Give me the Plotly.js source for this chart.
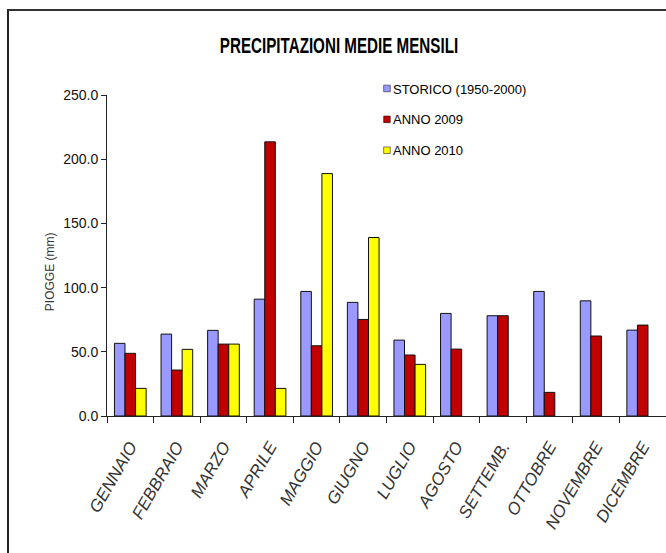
<!DOCTYPE html>
<html>
<head>
<meta charset="utf-8">
<script src="https://cdn.plot.ly/plotly-3.0.1.min.js"></script>
<style>
  html, body { margin: 0; padding: 0; background: #fff; overflow: hidden; }
  #wrap { position: relative; width: 666px; height: 553px; }
  #chart { position: absolute; left: 0; top: 0; width: 666px; height: 553px; }
  #frame { position: absolute; left: 7px; top: 9px; width: 700px; height: 600px;
           border-left: 2px solid #222; border-top: 2px solid #333; pointer-events: none; }
  #chart .gtitle { transform-box: fill-box; transform-origin: center; transform: scaleX(0.69); }
</style>
</head>
<body>
<div id="wrap">
  <div id="chart"></div>
  <div id="frame"></div>
</div>
<script>
const months = ["GENNAIO","FEBBRAIO","MARZO","APRILE","MAGGIO","GIUGNO","LUGLIO","AGOSTO","SETTEMB.","OTTOBRE","NOVEMBRE","DICEMBRE"];
const storico = [56.6, 63.8, 66.7, 91.0, 97.0, 88.5, 59.1, 79.9, 78.1, 97.0, 89.7, 66.9];
const anno2009 = [48.8, 35.8, 56.0, 213.5, 54.7, 75.2, 47.5, 52.1, 78.1, 18.4, 62.3, 70.8];
const anno2010 = [21.5, 51.9, 56.0, 21.5, 188.8, 139.0, 40.2, null, null, null, null, null];
const seriesNames = ["STORICO (1950-2000)", "ANNO 2009", "ANNO 2010"];
const yTicks = [0, 50, 100, 150, 200, 250];

const arial = '"Liberation Sans", Arial, sans-serif';

function bar(name, vals, color, group) {
  return {
    type: 'bar', name: name, x: months, y: vals, legendgroup: group,
    marker: { color: color, line: { color: '#111', width: 1 } },
    hoverinfo: 'x+y+name'
  };
}

const data = [
  bar(seriesNames[0], storico, '#9999FF', 'a'),
  bar(seriesNames[1], anno2009, '#C00000', 'b'),
  bar(seriesNames[2], anno2010, '#FFFF00', 'c')
];

const layout = {
  width: 666, height: 553,
  margin: { l: 107, r: 0, t: 95, b: 137 },
  paper_bgcolor: '#fff', plot_bgcolor: '#fff',
  barmode: 'group', bargap: 0.32, bargroupgap: 0,
  title: {
    text: 'PRECIPITAZIONI MEDIE MENSILI',
    font: { family: arial, size: 22, color: '#000', weight: 'bold' },
    x: 0.415, xanchor: 'center', xref: 'paper',
    y: 0.918, yanchor: 'middle', yref: 'container'
  },
  showlegend: true,
  legend: {
    x: 0.44, xanchor: 'left', y: 1.067, yanchor: 'top',
    bgcolor: 'rgba(0,0,0,0)', borderwidth: 0,
    font: { family: arial, size: 13, color: '#000' },
    traceorder: 'grouped', tracegroupgap: 11
  },
  xaxis: {
    type: 'category', showline: true, linecolor: '#222', linewidth: 1,
    ticks: 'outside', ticklen: 6, tickcolor: '#222', tickson: 'boundaries',
    tickangle: -60, ticklabelstandoff: 13,
    tickfont: { family: arial, size: 17, color: '#333', style: 'italic' },
    showgrid: false, zeroline: false, fixedrange: true
  },
  yaxis: {
    range: [0, 250], tickvals: yTicks, tickformat: '.1f',
    showline: true, linecolor: '#222', linewidth: 1,
    ticks: 'outside', ticklen: 5, tickcolor: '#222',
    tickfont: { family: arial, size: 14, color: '#111' },
    showgrid: false, zeroline: false, fixedrange: true
  },
  annotations: [{
    text: 'PIOGGE (mm)', textangle: -90, showarrow: false,
    xref: 'paper', yref: 'paper', x: -0.102, y: 0.451,
    xanchor: 'center', yanchor: 'middle',
    font: { family: arial, size: 12, color: '#333' }
  }]
};

Plotly.newPlot('chart', data, layout, { displayModeBar: false, staticPlot: true }).then(function (gd) {
  // smaller legend swatches placed right next to the text, as in the reference
  gd.querySelectorAll('.legendpoints path').forEach(function (p) {
    p.setAttribute('transform', 'translate(34,0) scale(0.55)');
  });
});
</script>
</body>
</html>
